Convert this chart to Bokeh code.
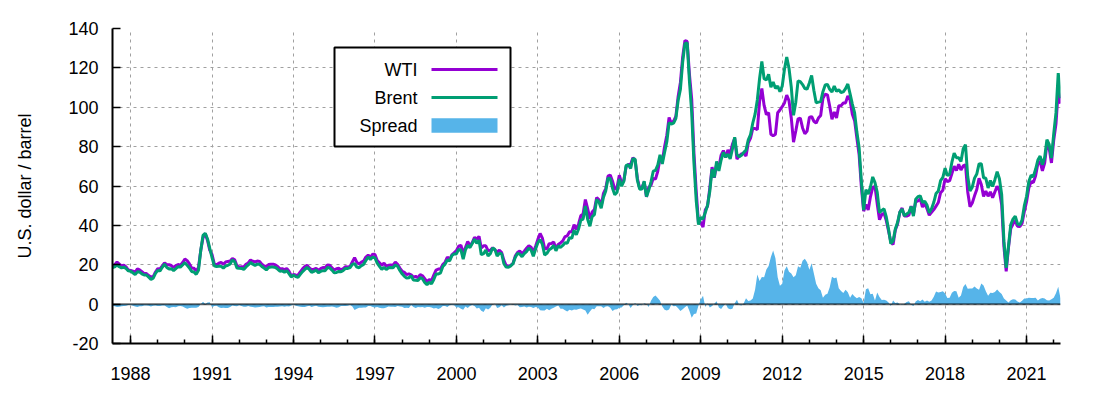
from bokeh.plotting import figure
from bokeh.models import FixedTicker, Span, Label, BoxAnnotation, Range1d, CustomJSTickFormatter
from bokeh.embed import file_html
from bokeh.resources import INLINE

# Monthly spot prices, U.S. dollar / barrel, starting May 1987
start_year = 1987
start_month = 5

wti = [
    19.4, 20.0, 21.4, 20.3, 19.5, 19.8, 18.9, 17.3,                          # 1987 (May-Dec)
    17.1, 16.7, 16.2, 17.9, 17.4, 16.5, 15.5, 15.5, 14.5, 13.8, 14.0, 16.3,  # 1988
    18.0, 17.9, 19.4, 21.0, 20.0, 20.0, 19.6, 18.5, 19.6, 20.1, 19.8, 21.1,  # 1989
    22.9, 22.1, 20.4, 18.4, 18.2, 16.9, 18.6, 27.2, 33.7, 35.9, 32.3, 27.3,  # 1990
    25.2, 20.5, 19.9, 20.8, 21.2, 20.2, 21.4, 21.7, 21.9, 23.2, 22.5, 19.5,  # 1991
    18.8, 19.0, 18.9, 20.2, 20.9, 22.4, 21.8, 21.4, 21.9, 21.7, 20.3, 19.4,  # 1992
    19.1, 20.1, 20.3, 20.3, 19.9, 19.1, 17.9, 18.0, 17.5, 18.1, 16.7, 14.5,  # 1993
    15.0, 14.8, 14.7, 16.4, 17.9, 19.1, 19.7, 18.4, 17.5, 17.7, 18.1, 17.2,  # 1994
    18.0, 18.6, 18.5, 19.9, 19.7, 18.5, 17.3, 18.0, 18.2, 17.4, 18.0, 19.0,  # 1995
    18.9, 19.1, 21.4, 23.6, 21.2, 20.4, 21.3, 21.9, 23.9, 24.9, 23.7, 25.4,  # 1996
    25.2, 22.2, 21.0, 19.7, 20.8, 19.3, 19.7, 19.9, 19.8, 21.3, 20.2, 18.3,  # 1997
    16.7, 16.1, 15.0, 15.4, 14.9, 13.7, 14.1, 13.4, 15.0, 14.4, 12.9, 11.3,  # 1998
    12.5, 12.0, 14.7, 17.3, 17.8, 17.9, 20.1, 21.3, 23.9, 22.6, 25.0, 26.1,  # 1999
    27.2, 29.4, 29.9, 25.7, 28.8, 31.8, 29.7, 31.3, 33.9, 33.1, 34.4, 28.5,  # 2000
    29.6, 29.6, 27.2, 27.4, 28.6, 27.6, 26.4, 27.4, 26.2, 22.2, 19.6, 19.3,  # 2001
    19.7, 20.7, 24.4, 26.2, 27.0, 25.5, 26.9, 28.4, 29.7, 28.9, 26.3, 29.4,  # 2002
    32.9, 35.9, 33.5, 28.3, 28.1, 30.7, 30.8, 31.6, 28.3, 30.3, 31.1, 32.1,  # 2003
    34.3, 34.7, 36.7, 36.7, 40.3, 38.0, 40.7, 44.9, 45.9, 53.1, 48.5, 43.3,  # 2004
    46.8, 48.1, 54.2, 53.0, 49.8, 56.3, 58.7, 65.0, 65.6, 62.4, 58.3, 59.4,  # 2005
    65.5, 61.6, 62.9, 69.7, 70.9, 70.9, 74.4, 73.0, 63.8, 58.9, 59.1, 62.0,  # 2006
    54.5, 59.3, 60.4, 63.9, 63.5, 67.5, 74.1, 72.4, 79.9, 85.8, 94.8, 91.7,  # 2007
    93.0, 95.4, 105.5, 112.6, 125.4, 133.9, 133.4, 116.7, 104.1, 76.6, 57.3, 41.1,  # 2008
    41.7, 39.1, 47.9, 49.7, 59.0, 69.6, 64.2, 71.1, 69.4, 75.7, 78.0, 74.5,  # 2009
    78.3, 76.4, 81.2, 84.3, 73.7, 75.3, 76.3, 76.6, 75.2, 81.9, 84.3, 89.2,  # 2010
    89.2, 88.6, 102.9, 109.5, 100.9, 96.3, 97.3, 86.3, 85.5, 86.3, 97.2, 98.6,  # 2011
    100.3, 102.2, 106.2, 103.3, 94.7, 82.3, 87.9, 94.1, 94.5, 89.5, 86.5, 87.9,  # 2012
    94.8, 95.3, 92.9, 92.0, 94.5, 95.8, 104.6, 106.6, 106.3, 100.5, 93.9, 97.6,  # 2013
    94.6, 100.8, 100.8, 102.1, 102.2, 105.8, 103.6, 96.5, 93.2, 84.4, 75.8, 59.3,  # 2014
    47.2, 50.6, 47.8, 54.5, 59.3, 59.8, 50.9, 42.9, 45.5, 46.2, 42.4, 37.2,  # 2015
    31.7, 30.3, 37.6, 40.8, 46.7, 48.8, 44.7, 44.7, 45.2, 49.8, 45.7, 52.0,  # 2016
    52.5, 53.5, 49.3, 51.1, 48.5, 45.2, 46.6, 48.0, 49.8, 51.6, 56.6, 57.9,  # 2017
    63.7, 62.2, 62.7, 66.3, 70.0, 67.9, 71.0, 68.1, 70.2, 70.8, 57.0, 49.5,  # 2018
    51.4, 55.0, 58.2, 63.9, 60.8, 54.7, 57.4, 54.8, 57.0, 54.0, 57.0, 59.9,  # 2019
    57.5, 50.5, 29.2, 16.6, 28.6, 38.3, 40.7, 42.3, 39.6, 39.4, 41.0, 47.0,  # 2020
    52.0, 59.0, 62.3, 61.7, 65.2, 71.4, 72.5, 67.7, 71.6, 81.5, 79.2, 71.7,  # 2021
    83.2, 91.6, 108.5, 101.8,                                                # 2022 (Jan-Apr)
]

brent = [
    18.6, 18.9, 19.9, 19.0, 18.4, 18.8, 18.1, 16.9,                          # 1987 (May-Dec)
    16.7, 15.9, 15.0, 16.4, 16.3, 15.4, 14.8, 14.8, 13.7, 12.6, 13.2, 15.6,  # 1988
    17.1, 16.9, 18.7, 20.3, 18.6, 17.9, 18.0, 17.0, 18.0, 19.0, 18.8, 19.9,  # 1989
    21.1, 19.7, 18.4, 16.6, 16.3, 15.1, 17.2, 27.2, 34.9, 36.0, 33.1, 28.3,  # 1990
    23.6, 19.5, 19.1, 19.2, 19.2, 18.3, 19.4, 19.7, 20.4, 22.5, 21.5, 18.4,  # 1991
    18.2, 18.1, 17.6, 18.9, 19.9, 21.1, 20.3, 19.7, 20.3, 20.2, 19.1, 18.3,  # 1992
    17.4, 18.6, 18.8, 18.8, 18.6, 17.8, 16.7, 16.9, 16.2, 17.0, 15.5, 13.8,  # 1993
    14.7, 14.0, 13.6, 15.1, 16.5, 17.6, 18.6, 17.6, 16.1, 16.6, 17.3, 15.9,  # 1994
    16.6, 17.0, 17.0, 18.6, 18.4, 17.3, 15.9, 16.1, 16.6, 16.4, 17.1, 18.1,  # 1995
    18.1, 18.6, 20.2, 20.6, 18.8, 18.5, 19.5, 20.2, 22.2, 23.9, 22.7, 23.9,  # 1996
    23.5, 20.8, 19.2, 17.6, 18.7, 17.6, 18.5, 18.6, 18.5, 19.9, 19.2, 17.1,  # 1997
    15.4, 14.1, 13.2, 13.4, 14.4, 12.2, 12.1, 12.0, 13.4, 12.9, 11.0, 9.8,   # 1998
    11.1, 10.3, 12.5, 15.3, 15.3, 15.9, 19.1, 20.3, 22.5, 22.0, 24.6, 25.5,  # 1999
    25.5, 27.8, 27.5, 22.8, 27.6, 29.8, 28.7, 30.8, 33.0, 30.9, 32.5, 25.1,  # 2000
    25.6, 27.5, 24.5, 25.6, 28.5, 27.8, 24.4, 25.8, 25.6, 20.5, 18.8, 18.7,  # 2001
    19.4, 20.5, 23.7, 25.7, 25.4, 24.1, 25.7, 26.7, 28.4, 27.5, 24.3, 28.0,  # 2002
    31.2, 32.8, 30.3, 25.0, 25.8, 27.6, 28.4, 29.8, 27.1, 29.6, 28.8, 29.8,  # 2003
    31.2, 30.9, 33.8, 33.4, 37.6, 35.2, 38.2, 42.7, 43.2, 49.8, 43.1, 39.6,  # 2004
    44.5, 45.5, 53.1, 51.9, 48.7, 54.3, 57.5, 63.9, 63.8, 58.9, 55.6, 56.8,  # 2005
    63.6, 59.9, 62.3, 70.4, 70.8, 68.9, 73.9, 73.6, 62.8, 58.4, 58.5, 62.4,  # 2006
    54.6, 57.8, 62.1, 67.5, 67.9, 70.6, 75.8, 71.2, 77.0, 82.5, 92.1, 91.5,  # 2007
    91.9, 94.4, 103.4, 109.1, 122.8, 132.3, 132.7, 113.2, 97.2, 71.6, 52.5, 40.4,  # 2008
    44.0, 43.3, 46.5, 50.2, 57.3, 68.6, 64.4, 72.5, 67.7, 73.2, 77.0, 74.7,  # 2009
    76.2, 73.8, 78.8, 84.8, 75.9, 74.8, 75.6, 77.1, 78.2, 83.5, 86.1, 92.0,  # 2010
    96.5, 103.7, 114.6, 123.3, 114.5, 113.9, 116.7, 110.2, 112.8, 109.6, 110.8, 107.9,  # 2011
    110.7, 119.3, 125.5, 119.8, 110.3, 95.9, 102.6, 113.4, 113.0, 111.5, 109.5, 109.2,  # 2012
    112.3, 116.1, 108.5, 102.3, 102.6, 102.9, 107.9, 111.3, 111.6, 109.1, 107.8, 110.8,  # 2013
    108.1, 108.9, 107.5, 107.8, 109.5, 111.8, 106.8, 101.6, 97.1, 87.4, 79.4, 62.3,  # 2014
    47.8, 58.1, 55.9, 59.5, 64.6, 61.7, 56.8, 46.5, 47.6, 48.4, 44.3, 38.0,  # 2015
    30.7, 32.2, 38.2, 41.6, 46.7, 48.3, 44.9, 45.8, 46.6, 49.5, 44.7, 53.3,  # 2016
    54.6, 55.0, 51.6, 52.3, 50.3, 46.4, 48.5, 51.7, 56.2, 57.5, 62.7, 64.4,  # 2017
    69.1, 65.3, 66.0, 72.1, 76.7, 74.4, 74.3, 72.5, 78.9, 81.0, 64.8, 57.4,  # 2018
    59.4, 64.0, 66.1, 71.2, 71.3, 64.2, 63.9, 59.0, 62.8, 59.7, 63.2, 67.3,  # 2019
    63.7, 55.7, 32.0, 18.4, 29.4, 40.3, 43.2, 44.7, 40.9, 40.2, 42.7, 49.9,  # 2020
    54.8, 62.3, 65.4, 64.8, 68.5, 73.2, 75.2, 70.8, 74.5, 83.5, 81.1, 74.2,  # 2021
    86.5, 97.1, 117.3, 104.6,                                                # 2022 (Jan-Apr)
]

x_tick_years = [1988, 1991, 1994, 1997, 2000, 2003, 2006, 2009, 2012, 2015, 2018, 2021]
x_minor_years = list(range(1987, 2023))
y_ticks = [-20, 0, 20, 40, 60, 80, 100, 120, 140]
series_names = ["WTI", "Brent", "Spread"]
y_label = "U.S. dollar / barrel"

C_WTI = "#9400D3"
C_BRENT = "#009E73"
C_SPREAD = "#56B4E9"
FONT = "Liberation Sans"

n = len(wti)
t = [start_year + (start_month - 1 + i) / 12.0 for i in range(n)]
spread = [b - w for b, w in zip(brent, wti)]

p = figure(width=1084, height=384, output_backend="svg", toolbar_location=None,
           x_range=Range1d(t[0], t[-1]), y_range=Range1d(y_ticks[0], y_ticks[-1]),
           min_border_left=112, min_border_right=24, min_border_top=28, min_border_bottom=41)
p.outline_line_color = None
p.background_fill_color = "white"
p.border_fill_color = "white"

int_fmt = CustomJSTickFormatter(code="return tick.toFixed(0);")

# axes
for ax in (p.xaxis[0], p.yaxis[0]):
    ax.axis_line_color = "black"
    ax.axis_line_width = 2
    ax.major_tick_line_color = "black"
    ax.major_tick_line_width = 1.5
    ax.minor_tick_line_color = "black"
    ax.minor_tick_line_width = 1.5
    ax.major_tick_out = 0
    ax.major_tick_in = 8
    ax.minor_tick_out = 0
    ax.minor_tick_in = 4
    ax.major_label_text_font = FONT
    ax.major_label_text_font_size = "18px"
    ax.major_label_text_color = "black"
    ax.formatter = int_fmt

p.xaxis.ticker = FixedTicker(ticks=x_tick_years, minor_ticks=x_minor_years)
p.yaxis.ticker = FixedTicker(ticks=y_ticks, minor_ticks=[])
p.xaxis.major_label_standoff = 23
p.yaxis.major_label_standoff = 14
p.yaxis.axis_label = y_label
p.yaxis.axis_label_text_font = FONT
p.yaxis.axis_label_text_font_size = "18px"
p.yaxis.axis_label_text_font_style = "normal"
p.yaxis.axis_label_text_color = "black"
p.yaxis.axis_label_standoff = 30

for g in (p.xgrid[0], p.ygrid[0]):
    g.grid_line_color = "#a0a0a0"
    g.grid_line_dash = "3 4"
    g.grid_line_width = 1

# data
p.line(t, wti, line_color=C_WTI, line_width=3)
p.line(t, brent, line_color=C_BRENT, line_width=3)
p.varea(x=t, y1=0, y2=spread, fill_color=C_SPREAD, fill_alpha=1)
p.add_layout(Span(location=0, dimension="width", line_color="black",
                  line_alpha=0.6, line_width=2))

# legend (screen units from frame bottom-left)
p.add_layout(BoxAnnotation(left=222, right=398, bottom=197, top=296,
                           left_units="screen", right_units="screen",
                           bottom_units="screen", top_units="screen",
                           fill_color="white", fill_alpha=1,
                           line_color="black", line_width=2, line_alpha=1))
rows_y = [274, 246, 218]
for name, yy in zip(series_names, rows_y):
    p.add_layout(Label(x=305, y=yy, x_units="screen", y_units="screen", text=name,
                       text_align="right", text_baseline="middle",
                       text_font=FONT, text_font_size="18px", text_color="black"))
for col, yy in ((C_WTI, rows_y[0]), (C_BRENT, rows_y[1])):
    p.add_layout(BoxAnnotation(left=319, right=385, bottom=yy - 1.5, top=yy + 1.5,
                               left_units="screen", right_units="screen",
                               bottom_units="screen", top_units="screen",
                               fill_color=col, fill_alpha=1, line_color=None))
p.add_layout(BoxAnnotation(left=319, right=385, bottom=rows_y[2] - 7.3, top=rows_y[2] + 7.3,
                           left_units="screen", right_units="screen",
                           bottom_units="screen", top_units="screen",
                           fill_color=C_SPREAD, fill_alpha=1, line_color=None))

open("out.html", "w").write(file_html(p, INLINE))
